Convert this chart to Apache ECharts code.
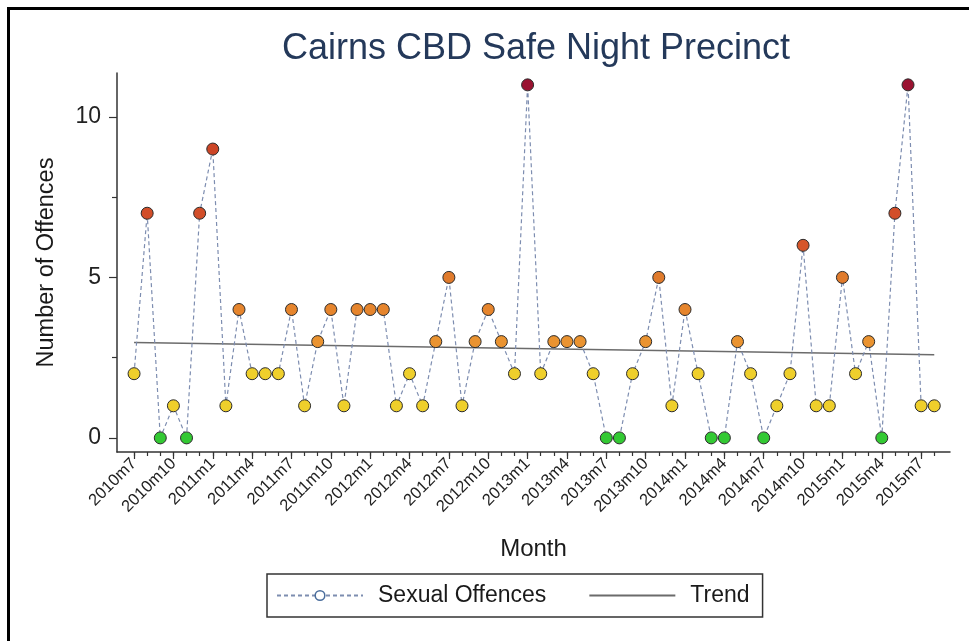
<!DOCTYPE html>
<html>
<head>
<meta charset="utf-8">
<title>Cairns CBD Safe Night Precinct</title>
<script src="https://cdn.jsdelivr.net/npm/echarts@6/dist/echarts.min.js"></script>
<style>
  html, body { margin: 0; padding: 0; background: #ffffff; }
  #chart { width: 969px; height: 641px; }
</style>
</head>
<body>
<div id="chart"></div>
<script>
// Monthly counts of sexual offences, July 2010 to August 2015
const months = [
  '2010m7','2010m8','2010m9','2010m10','2010m11','2010m12',
  '2011m1','2011m2','2011m3','2011m4','2011m5','2011m6',
  '2011m7','2011m8','2011m9','2011m10','2011m11','2011m12',
  '2012m1','2012m2','2012m3','2012m4','2012m5','2012m6',
  '2012m7','2012m8','2012m9','2012m10','2012m11','2012m12',
  '2013m1','2013m2','2013m3','2013m4','2013m5','2013m6',
  '2013m7','2013m8','2013m9','2013m10','2013m11','2013m12',
  '2014m1','2014m2','2014m3','2014m4','2014m5','2014m6',
  '2014m7','2014m8','2014m9','2014m10','2014m11','2014m12',
  '2015m1','2015m2','2015m3','2015m4','2015m5','2015m6',
  '2015m7','2015m8'
];

const offences = [
  2, 7, 0, 1, 0, 7,
  9, 1, 4, 2, 2, 2,
  4, 1, 3, 4, 1, 4,
  4, 4, 1, 2, 1, 3,
  5, 1, 3, 4, 3, 2,
  11, 2, 3, 3, 3, 2,
  0, 0, 2, 3, 5, 1,
  4, 2, 0, 0, 3, 2,
  0, 1, 2, 6, 1, 1,
  5, 2, 3, 0, 7, 11,
  1, 1
];

// Labelled months on the x axis (every quarter)
const tickMonths = [
  '2010m7','2010m10','2011m1','2011m4','2011m7','2011m10',
  '2012m1','2012m4','2012m7','2012m10','2013m1','2013m4',
  '2013m7','2013m10','2014m1','2014m4','2014m7','2014m10',
  '2015m1','2015m4','2015m7'
];

// Linear trend, start and end of the period
const trendMonths = ['2010m7', '2015m8'];
const trendValues = [2.97, 2.59];

const yTickValues = [0, 5, 10];
const yMinorTickValues = [2.5, 7.5];

// Marker fill by count
const levelColors = {
  0: '#33c933', 1: '#efcf2b', 2: '#efcf2b',
  3: '#ea9330', 4: '#e6852d', 5: '#e07b2c',
  6: '#d6562a', 7: '#d24e29', 9: '#cc4526', 11: '#9a1231'
};

const FONT = '"Liberation Sans", Arial, Helvetica, sans-serif';

const monthIdx = months.map((m, i) => i);
const tickIdx = tickMonths.map(m => months.indexOf(m));

const offenceData = offences.map((v, i) => ({
  value: [i, v],
  itemStyle: { color: levelColors[v] }
}));
const trendData = trendMonths.map((m, k) => [months.indexOf(m), trendValues[k]]);

const X_MIN = -1.3, X_MAX = 62.2;
const Y_MIN = -0.44, Y_MAX = 11.37;

const chart = echarts.init(document.getElementById('chart'), null, { renderer: 'canvas' });

chart.setOption({
  backgroundColor: '#ffffff',
  animation: false,
  textStyle: { fontFamily: FONT },
  grid: { left: 117, right: 19, top: 73, bottom: 189, containLabel: false },
  legend: {
    left: 267,
    top: 574,
    orient: 'horizontal',
    itemWidth: 86,
    itemHeight: 12,
    itemGap: 42,
    padding: [10, 13, 10, 9],
    borderColor: '#333333',
    borderWidth: 1.5,
    borderRadius: 0,
    backgroundColor: '#ffffff',
    textStyle: { fontFamily: FONT, fontSize: 23, color: '#1a1a1a', padding: [0, 0, 0, 10] },
    data: [
      { name: 'Sexual Offences', itemStyle: { color: '#ffffff', borderColor: '#4a6d9c', borderWidth: 1.5 } },
      { name: 'Trend', itemStyle: { color: 'rgba(0,0,0,0)', borderWidth: 0 } }
    ]
  },
  graphic: [
    { type: 'rect', shape: { x: 7, y: 7, width: 962, height: 3 }, style: { fill: '#000' }, z: 100 },
    { type: 'rect', shape: { x: 7, y: 7, width: 3, height: 634 }, style: { fill: '#000' }, z: 100 },
    {
      type: 'text', x: 536, y: 49,
      style: {
        text: 'Cairns CBD Safe Night Precinct',
        fontFamily: FONT, fontSize: 36, fill: '#24395a',
        textAlign: 'center', textVerticalAlign: 'middle'
      }
    }
  ],
  xAxis: [
    {
      type: 'value', min: X_MIN, max: X_MAX, position: 'bottom',
      name: 'Month', nameLocation: 'middle', nameGap: 85, nameMoveOverlap: false,
      nameTextStyle: { fontFamily: FONT, fontSize: 24, color: '#1a1a1a' },
      axisLine: { show: true, onZero: false, lineStyle: { color: '#333', width: 1.5 } },
      axisTick: { show: true, customValues: tickIdx, length: 7, lineStyle: { color: '#333', width: 1.2 } },
      axisLabel: {
        show: true, customValues: tickIdx, rotate: 45, margin: 9,
        fontFamily: FONT, fontSize: 16.5, color: '#222',
        formatter: v => months[Math.round(v)]
      },
      splitLine: { show: false }
    },
    {
      type: 'value', min: X_MIN, max: X_MAX, position: 'bottom',
      axisLine: { show: false, onZero: false },
      axisTick: { show: true, customValues: monthIdx, length: 4, lineStyle: { color: '#333', width: 1.2 } },
      axisLabel: { show: false },
      splitLine: { show: false }
    }
  ],
  yAxis: [
    {
      type: 'value', min: Y_MIN, max: Y_MAX, position: 'left',
      name: 'Number of Offences', nameLocation: 'middle', nameGap: 58, nameMoveOverlap: false,
      nameTextStyle: { fontFamily: FONT, fontSize: 23.5, color: '#1a1a1a' },
      axisLine: { show: true, onZero: false, lineStyle: { color: '#333', width: 1.5 } },
      axisTick: { show: true, customValues: yTickValues, length: 8, lineStyle: { color: '#333', width: 1.2 } },
      axisLabel: { show: true, customValues: yTickValues, margin: 16, fontFamily: FONT, fontSize: 23, color: '#222' },
      splitLine: { show: false }
    },
    {
      type: 'value', min: Y_MIN, max: Y_MAX, position: 'left',
      axisLine: { show: false, onZero: false },
      axisTick: { show: true, customValues: yMinorTickValues, length: 5, lineStyle: { color: '#333', width: 1.2 } },
      axisLabel: { show: false },
      splitLine: { show: false }
    }
  ],
  series: [
    {
      name: 'Trend', type: 'line', xAxisIndex: 0, yAxisIndex: 0,
      data: trendData, showSymbol: false, symbol: 'none',
      lineStyle: { color: '#6b6b6b', width: 1.5, type: 'solid' },
      itemStyle: { color: '#6b6b6b' },
      z: 2
    },
    {
      name: 'Sexual Offences', type: 'line', xAxisIndex: 0, yAxisIndex: 0,
      data: offenceData,
      symbol: 'circle', symbolSize: 12, showSymbol: true,
      lineStyle: { color: '#7d8db0', width: 1.2, type: [4, 3] },
      itemStyle: { color: '#4a6d9c', borderColor: '#2b2b2b', borderWidth: 1 },
      z: 3
    }
  ]
});
</script>
</body>
</html>
